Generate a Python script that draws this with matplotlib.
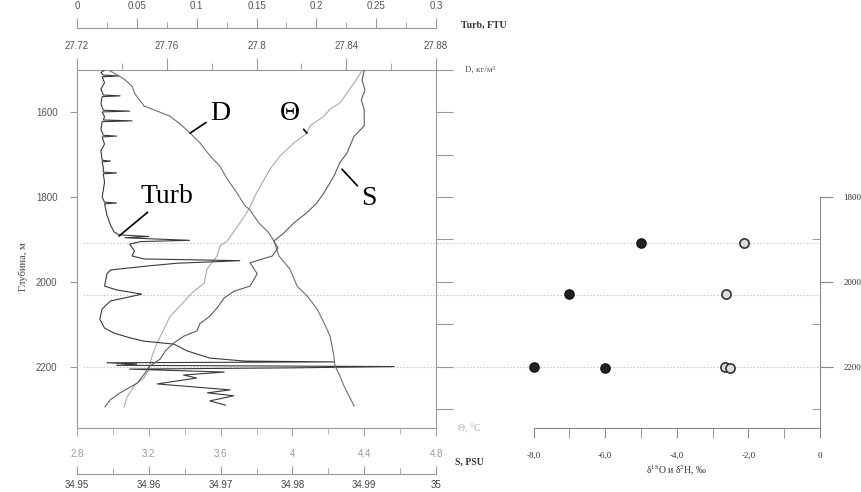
import matplotlib.pyplot as plt
from matplotlib.ticker import FixedLocator, FuncFormatter

plt.rcParams['font.family'] = ['Liberation Sans', 'DejaVu Sans']
plt.rcParams['mathtext.fontset'] = 'stix'
SERIF = ['Liberation Serif', 'DejaVu Serif']

# --- profiles (depth in m) ---
turb_depth = [1500, 1506, 1512, 1514, 1516, 1530, 1545, 1559, 1561, 1563, 1580, 1595,
              1597, 1599, 1610, 1618, 1620, 1622, 1640, 1654, 1656, 1658, 1675, 1690,
              1713, 1715, 1717, 1730, 1741, 1743, 1745, 1765, 1783, 1800, 1812, 1814,
              1816, 1842, 1866, 1882, 1889, 1893, 1896, 1902, 1905, 1911, 1927, 1939,
              1946, 1950, 1952, 1956, 1962, 1972, 1981, 1996, 2010, 2019, 2029, 2038,
              2045, 2064, 2088, 2109, 2121, 2132, 2140, 2147, 2163, 2180, 2187, 2189,
              2191, 2194, 2197, 2200, 2203, 2206, 2213, 2220, 2227, 2241, 2255, 2262,
              2269, 2281, 2291]
turb = [0.023, 0.020, 0.022, 0.035, 0.021, 0.023, 0.020, 0.022, 0.036, 0.021, 0.020, 0.022,
        0.044, 0.021, 0.023, 0.022, 0.046, 0.021, 0.020, 0.022, 0.033, 0.021, 0.023, 0.020,
        0.021, 0.028, 0.021, 0.022, 0.022, 0.033, 0.022, 0.023, 0.022, 0.021, 0.023, 0.033,
        0.023, 0.025, 0.028, 0.031, 0.035, 0.060, 0.040, 0.094, 0.053, 0.044, 0.048, 0.046,
        0.056, 0.136, 0.120, 0.084, 0.061, 0.028, 0.025, 0.024, 0.023, 0.033, 0.054, 0.040,
        0.028, 0.021, 0.019, 0.023, 0.031, 0.044, 0.056, 0.081, 0.092, 0.111, 0.140, 0.215,
        0.025, 0.050, 0.033, 0.265, 0.181, 0.044, 0.123, 0.089, 0.100, 0.067, 0.128, 0.109,
        0.131, 0.111, 0.124]

dens_depth = [1502, 1521, 1538, 1557, 1585, 1597, 1609, 1627, 1649, 1672, 1703, 1727,
              1757, 1790, 1821, 1828, 1861, 1885, 1904, 1939, 1970, 2010, 2033, 2064,
              2097, 2128, 2175, 2199, 2222, 2246, 2269, 2293]
dens = [27.7347, 27.7409, 27.7445, 27.7459, 27.7499, 27.7557, 27.7614, 27.7659, 27.7704,
        27.7748, 27.7793, 27.7837, 27.7869, 27.7913, 27.7949, 27.7967, 27.8011, 27.8056,
        27.8078, 27.8100, 27.8149, 27.8181, 27.8225, 27.8270, 27.8301, 27.8328, 27.8345,
        27.8350, 27.8372, 27.8390, 27.8412, 27.8435]

theta_depth = [1502, 1531, 1554, 1578, 1592, 1609, 1632, 1649, 1672, 1703, 1734, 1767,
               1797, 1828, 1861, 1904, 1915, 1939, 1970, 2003, 2026, 2057, 2081, 2111,
               2144, 2175, 2206, 2227, 2243, 2272, 2295]
theta = [4.388, 4.343, 4.304, 4.265, 4.210, 4.176, 4.098, 4.081, 4.009, 3.931, 3.875, 3.831,
         3.792, 3.758, 3.708, 3.636, 3.597, 3.580, 3.524, 3.508, 3.441, 3.374, 3.319, 3.285,
         3.246, 3.218, 3.201, 3.173, 3.123, 3.079, 3.062]

sal_depth = [1502, 1524, 1547, 1571, 1594, 1632, 1656, 1696, 1719, 1750, 1790, 1814,
             1837, 1861, 1885, 1904, 1920, 1939, 1955, 1981, 2010, 2022, 2038, 2062,
             2081, 2099, 2116, 2128, 2144, 2163, 2182, 2201, 2215, 2239, 2262, 2279, 2295]
sal = [34.9900, 34.9897, 34.9901, 34.9896, 34.9900, 34.9900, 34.9886, 34.9876, 34.9866,
       34.9858, 34.9844, 34.9834, 34.9820, 34.9802, 34.9788, 34.9774, 34.9780, 34.9772,
       34.9741, 34.9751, 34.9741, 34.9719, 34.9705, 34.9695, 34.9685, 34.9671, 34.9667,
       34.9649, 34.9635, 34.9623, 34.9616, 34.9600, 34.9595, 34.9584, 34.9560, 34.9546,
       34.9539]

# isotope samples
sample_depth = [1908, 2030, 2201]
iso_dark_depth = [1908, 2030, 2201, 2203]
iso_dark = [-5.0, -7.0, -8.0, -6.0]
iso_light_depth = [1908, 2030, 2200, 2203]
iso_light = [-2.12, -2.63, -2.65, -2.51]

# tick values
turb_ticks = [0, 0.05, 0.1, 0.15, 0.2, 0.25, 0.3]
turb_minor = [0.025, 0.075, 0.125, 0.175, 0.225, 0.275]
dens_ticks = [27.72, 27.76, 27.8, 27.84, 27.88]
dens_minor = [27.74, 27.78, 27.82, 27.86]
theta_ticks = [2.8, 3.2, 3.6, 4.0, 4.4, 4.8]
theta_minor = [3.0, 3.4, 3.8, 4.2, 4.6]
sal_ticks = [34.95, 34.96, 34.97, 34.98, 34.99, 35.0]
sal_minor = [34.955, 34.965, 34.975, 34.985, 34.995]
depth_ticks = [1600, 1800, 2000, 2200]
depth_minor = [1500, 1600, 1700, 1800, 1900, 2000, 2100, 2200, 2300]
iso_ticks = [-8, -6, -4, -2, 0]
iso_minor = [-7, -5, -3, -1]
iso_depth_ticks = [1800, 2000, 2200]
iso_depth_minor = [1900, 2100, 2300]

W, H = 861, 492
fig = plt.figure(figsize=(W / 100, H / 100), dpi=100)
ax = fig.add_axes([77 / W, 64 / H, 359 / W, 358 / H])
ax.set_ylim(2345, 1500)
ax.set_xlim(theta_ticks[0], theta_ticks[-1])

g = lambda v, pos=None: f'{v:g}'

# theta on the host bottom axis
ax.plot(theta, theta_depth, color='#ababab', lw=0.8)
ax.xaxis.set_major_locator(FixedLocator(theta_ticks))
ax.xaxis.set_minor_locator(FixedLocator(theta_minor))
ax.xaxis.set_major_formatter(FuncFormatter(g))
ax.tick_params(axis='x', which='both', direction='out', color='#aaaaaa',
               labelcolor='#9a9a9a', labelsize=7, pad=9)
ax.tick_params(axis='x', which='major', length=6)
ax.tick_params(axis='x', which='minor', length=4)
ax.yaxis.set_major_locator(FixedLocator(depth_ticks))
ax.tick_params(axis='y', direction='out', length=5, color='#999999',
               labelcolor='#555555', labelsize=7, pad=9)
for s in ax.spines.values():
    s.set_color('#999999')
    s.set_linewidth(0.8)
ax.set_ylabel('Глубина, м', family=SERIF, fontsize=7.5, color='#444444')
ax.yaxis.set_label_coords(-(77 - 28) / 359, (428 - 267) / 358)

# right-hand depth ticks every 100 m
ax_rt = ax.twinx()
ax_rt.set_ylim(2345, 1500)
ax_rt.yaxis.set_major_locator(FixedLocator(depth_minor))
ax_rt.tick_params(axis='y', direction='out', length=12, color='#999999', labelright=False)
for k in ['left', 'top', 'bottom', 'right']:
    ax_rt.spines[k].set_visible(False)

# turbidity (top, outer)
ax_t = ax.twiny()
ax_t.plot(turb, turb_depth, color='#3a3a3a', lw=0.8)
ax_t.set_xlim(turb_ticks[0], turb_ticks[-1])
ax_t.xaxis.set_major_locator(FixedLocator(turb_ticks))
ax_t.xaxis.set_minor_locator(FixedLocator(turb_minor))
ax_t.xaxis.set_major_formatter(FuncFormatter(g))
for k in ['left', 'right', 'bottom']:
    ax_t.spines[k].set_visible(False)
ax_t.spines['top'].set_position(('outward', 42 * 0.72))
ax_t.spines['top'].set_color('#999999')
ax_t.tick_params(axis='x', which='both', direction='out', color='#999999',
                 labelcolor='#555555', labelsize=7, pad=5)
ax_t.tick_params(axis='x', which='major', length=7)
ax_t.tick_params(axis='x', which='minor', length=4.5)

# density (top, inner)
ax_d = ax.twiny()
ax_d.plot(dens, dens_depth, color='#707070', lw=0.8)
ax_d.set_xlim(dens_ticks[0], dens_ticks[-1])
ax_d.xaxis.set_major_locator(FixedLocator(dens_ticks))
ax_d.xaxis.set_minor_locator(FixedLocator(dens_minor))
ax_d.xaxis.set_major_formatter(FuncFormatter(g))
for s in ax_d.spines.values():
    s.set_visible(False)
ax_d.tick_params(axis='x', which='both', direction='out', color='#999999',
                 labelcolor='#555555', labelsize=7, pad=5)
ax_d.tick_params(axis='x', which='major', length=8.5)
ax_d.tick_params(axis='x', which='minor', length=5)

# salinity (bottom, outer)
ax_s = ax.twiny()
ax_s.plot(sal, sal_depth, color='#5c5c5c', lw=0.8)
ax_s.set_xlim(sal_ticks[0], sal_ticks[-1])
ax_s.xaxis.tick_bottom()
ax_s.xaxis.set_major_locator(FixedLocator(sal_ticks))
ax_s.xaxis.set_minor_locator(FixedLocator(sal_minor))
ax_s.xaxis.set_major_formatter(FuncFormatter(g))
for k in ['left', 'right', 'top']:
    ax_s.spines[k].set_visible(False)
ax_s.spines['bottom'].set_position(('outward', 46 * 0.72))
ax_s.spines['bottom'].set_color('#999999')
ax_s.tick_params(axis='x', which='both', direction='in', color='#999999',
                 labelcolor='#444444', labelsize=7, pad=4)
ax_s.tick_params(axis='x', which='major', length=6)
ax_s.tick_params(axis='x', which='minor', length=4)

# dotted sample levels running across both panels
for d in sample_depth:
    ax.axhline(d, xmin=0.017, xmax=(820 - 77) / 359, clip_on=False,
               color='#cccccc', lw=0.8, ls=(0, (1.5, 1.5)), zorder=0)

# curve labels
lab = dict(family=SERIF, fontsize=20, ha='center', va='center',
           arrowprops=dict(arrowstyle='-', color='black', lw=1.2, shrinkA=1, shrinkB=0))
ax_d.annotate('D', xy=(27.7704, 1649), xytext=(21.6, 14.4), textcoords='offset points', **lab)
ax.annotate('Θ', xy=(4.081, 1649), xytext=(-12.2, 14.4), textcoords='offset points', **lab)
ax_s.annotate('S', xy=(34.9869, 1734), xytext=(19.4, -20.9), textcoords='offset points', **lab)
ax_t.annotate('Turb', xy=(0.0351, 1892), xytext=(34.6, 28.8), textcoords='offset points', **lab)

# axis names at the right of the profile panel
fig.text(461 / W, 1 - 25 / H, 'Turb, FTU', family=SERIF, fontsize=7, weight='bold',
         color='#333333', va='center')
fig.text(465 / W, 1 - 70 / H, 'D, кг/м³', family=SERIF, fontsize=6.5, color='#555555',
         va='center')
fig.text(458 / W, 1 - 429 / H, 'Θ, °C', family=SERIF, fontsize=7, color='#aaaaaa',
         va='center')
fig.text(455 / W, 1 - 462 / H, 'S, PSU', family=SERIF, fontsize=7, weight='bold',
         color='#333333', va='center')

# isotope panel
ax2 = fig.add_axes([533.7 / W, 64 / H, 286.3 / W, 231 / H])
ax2.set_xlim(iso_ticks[0], iso_ticks[-1])
ax2.set_ylim(2345, 1800)
ax2.scatter(iso_dark, iso_dark_depth, s=44, color='#222222', edgecolor='#111111',
            linewidth=1.0, zorder=3, clip_on=False)
ax2.scatter(iso_light, iso_light_depth, s=44, color='#dddddd', edgecolor='#333333',
            linewidth=1.2, zorder=3, clip_on=False)
ax2.patch.set_visible(False)
for k in ['left', 'top']:
    ax2.spines[k].set_visible(False)
for k in ['right', 'bottom']:
    ax2.spines[k].set_color('#888888')
    ax2.spines[k].set_linewidth(0.8)
ax2.yaxis.tick_right()
ax2.yaxis.set_major_locator(FixedLocator(iso_depth_ticks))
ax2.yaxis.set_minor_locator(FixedLocator(iso_depth_minor))
ax2.xaxis.set_major_locator(FixedLocator(iso_ticks))
ax2.xaxis.set_minor_locator(FixedLocator(iso_minor))
ax2.xaxis.set_major_formatter(FuncFormatter(
    lambda v, pos=None: '0' if v == 0 else f'{v:.1f}'.replace('.', ',')))
ax2.tick_params(axis='y', which='major', direction='out', length=9, color='#888888',
                labelsize=6.5, labelcolor='#333333', pad=8)
ax2.tick_params(axis='y', which='minor', direction='in', length=6, color='#888888')
ax2.tick_params(axis='x', which='both', direction='out', length=7, color='#888888',
                labelsize=6.5, labelcolor='#333333', pad=10)
for t in ax2.get_xticklabels() + ax2.get_yticklabels():
    t.set_family(SERIF)
ax2.set_xlabel('δ$^{18}$O и δ$^{2}$H, ‰', family=SERIF, fontsize=7, color='#333333')
ax2.xaxis.set_label_coords(0.5, -(463 - 428) / 231)

fig.savefig('out.png', dpi=100)
